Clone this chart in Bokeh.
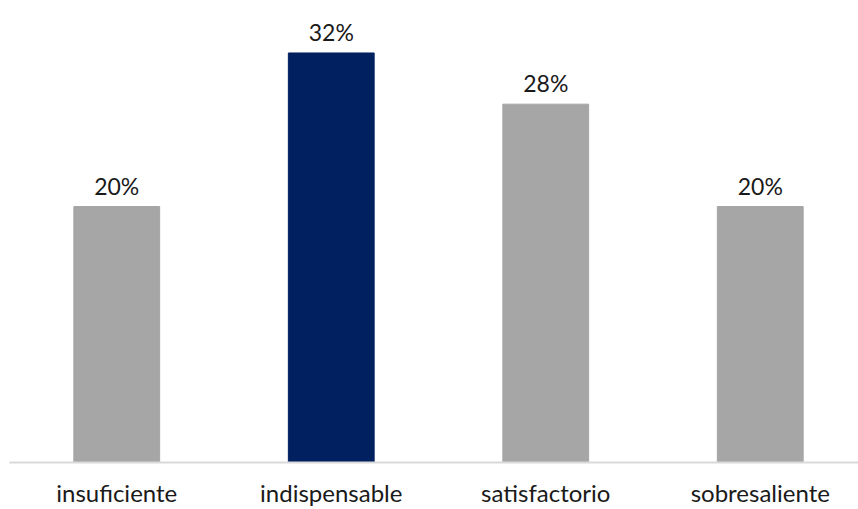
from bokeh.plotting import figure
from bokeh.models import FixedTicker, ColumnDataSource, Range1d
from bokeh.core.properties import value
from bokeh.embed import file_html
from bokeh.resources import INLINE

categories = ["insuficiente", "indispensable", "satisfactorio", "sobresaliente"]
shares = [0.20, 0.32, 0.28, 0.20]
colors = ["#a6a6a6", "#002060", "#a6a6a6", "#a6a6a6"]
labels = ["20%", "32%", "28%", "20%"]

xs = [i + 0.5 for i in range(len(categories))]
src = ColumnDataSource(dict(x=xs, top=shares, color=colors, label=labels))

p = figure(width=858, height=509, output_backend="svg", toolbar_location=None,
           x_range=Range1d(0, 3.958), y_range=Range1d(0, 0.361),
           min_border_left=9, min_border_right=0, min_border_top=0, min_border_bottom=47)
p.outline_line_color = None
p.background_fill_color = None
p.border_fill_color = None
p.grid.visible = False
p.yaxis.visible = False

p.vbar(x="x", top="top", width=0.40, color="color", source=src)
p.text(x="x", y="top", text="label", source=src, text_align="center",
       text_baseline="alphabetic", y_offset=-21, text_font=value("Lato"),
       text_font_size="23px", text_color="#1a1a1a")

ax = p.xaxis[0]
ax.ticker = FixedTicker(ticks=xs)
ax.major_label_overrides = {x: c for x, c in zip(xs, categories)}
ax.axis_line_color = "#d9d9d9"
ax.axis_line_width = 2
ax.major_tick_line_color = None
ax.minor_tick_line_color = None
ax.major_label_standoff = 9
ax.major_label_text_font = "Lato"
ax.major_label_text_font_size = "24px"
ax.major_label_text_color = "#1a1a1a"

open("out.html", "w").write(file_html(p, INLINE))
